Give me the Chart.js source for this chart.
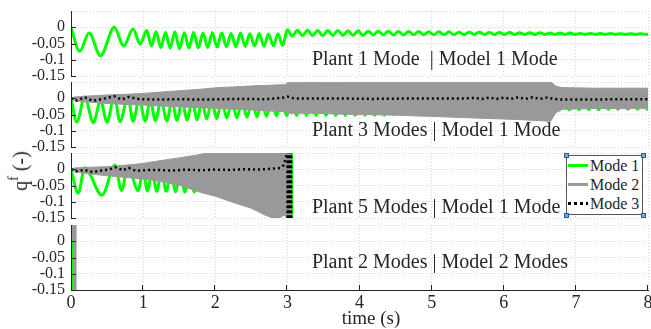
<!DOCTYPE html>
<html><head><meta charset="utf-8">
<script src="https://cdn.jsdelivr.net/npm/chart.js@4.4.0/dist/chart.umd.min.js"></script>
<style>
html,body{margin:0;padding:0;background:#fff;width:651px;height:329px;overflow:hidden;position:relative;}
canvas{position:absolute;left:0;}
#ylab{position:absolute;left:20px;top:171px;transform:translate(-50%,-50%) rotate(-90deg);font-size:20px;font-family:"Liberation Serif","Times New Roman",serif;color:#262626;white-space:nowrap;line-height:20px;z-index:5;}
#ylab sup{font-size:14px;vertical-align:9px;line-height:0;}
#legend{position:absolute;left:566px;top:155px;width:77px;height:60px;box-sizing:border-box;border:1px solid #555;background:#fff;z-index:6;font-family:"Liberation Serif","Times New Roman",serif;font-size:16px;color:#262626;}
.lrow{position:absolute;left:0;width:75px;height:16px;}
.lline{position:absolute;left:1px;top:6px;width:20px;height:3px;}
.ltext{position:absolute;left:23px;top:0;line-height:16px;white-space:nowrap;}
.handle{position:absolute;width:3px;height:3px;border:1px solid #1f5fa8;background:#79a9e0;z-index:7;}
</style></head><body>
<canvas id="c1"></canvas><canvas id="c2"></canvas><canvas id="c3"></canvas><canvas id="c4"></canvas>
<div id="ylab">q<sup>f</sup> (-)</div>
<div id="legend"></div>
<script>
// ---------------- tick / label data ----------------
const X_TICKS = [0, 1, 2, 3, 4, 5, 6, 7, 8];
const X_TICK_LABELS = ['0', '1', '2', '3', '4', '5', '6', '7', '8'];
const Y_TICKS = [-0.15, -0.1, -0.05, 0];
const Y_TICK_LABELS = ['-0.15', '-0.1', '-0.05', '0'];
const Y_MIN = -0.15, Y_MAX = 0.05;
const X_MIN = 0, X_MAX = 8;
const X_TITLE = 'time (s)';
const SERIES_NAMES = ['Mode 1', 'Mode 2', 'Mode 3'];
const PANEL_TITLES = ['Plant 1 Mode  | Model 1 Mode', 'Plant 3 Modes | Model 1 Mode', 'Plant 5 Modes | Model 1 Mode', 'Plant 2 Modes | Model 2 Modes'];

// ---------------- Panel 1 : Plant 1 Mode | Model 1 Mode ----------------
const P1_MODE1_T = [
 0, 0.12, 0.25, 0.41, 0.60, 0.73, 0.86, 0.96, 1.05, 1.115,
 1.18, 1.245, 1.31, 1.375, 1.44, 1.505, 1.57, 1.635, 1.70, 1.765,
 1.83, 1.895, 1.96, 2.025, 2.09, 2.155, 2.22, 2.285, 2.35, 2.415,
 2.48, 2.545, 2.61, 2.675, 2.74, 2.805, 2.87, 2.935, 3.00, 3.07,
 3.14, 3.21, 3.28, 3.35, 3.42, 3.49, 3.56, 3.63, 3.70, 3.77,
 3.84, 3.91, 3.98, 4.05, 4.12, 4.19, 4.26, 4.33, 4.40, 4.47,
 4.54, 4.61, 4.68, 4.75, 4.82, 4.89, 4.96, 5.03, 5.10, 5.17,
 5.24, 5.31, 5.38, 5.45, 5.52, 5.59, 5.66, 5.73, 5.80, 5.87,
 5.94, 6.01, 6.08, 6.15, 6.22, 6.29, 6.36, 6.43, 6.50, 6.57,
 6.64, 6.71, 6.78, 6.85, 6.92, 6.99, 7.06, 7.13, 7.20, 7.27,
 7.34, 7.41, 7.48, 7.55, 7.62, 7.69, 7.76, 7.83, 7.90, 7.97,
 8.00];
const P1_MODE1 = [
 0, -0.074, -0.018, -0.088, 0.000, -0.058, -0.005, -0.052, -0.010, -0.058,
 -0.014, -0.062, -0.016, -0.064, -0.015, -0.066, -0.017, -0.064, -0.016, -0.063,
 -0.018, -0.062, -0.017, -0.061, -0.018, -0.060, -0.019, -0.060, -0.018, -0.059,
 -0.020, -0.058, -0.019, -0.058, -0.021, -0.057, -0.020, -0.056, -0.008, -0.027,
 -0.009, -0.026, -0.009, -0.026, -0.010, -0.026, -0.010, -0.025, -0.010, -0.025,
 -0.011, -0.025, -0.011, -0.025, -0.012, -0.024, -0.012, -0.024, -0.012, -0.024,
 -0.013, -0.024, -0.013, -0.023, -0.013, -0.023, -0.014, -0.023, -0.014, -0.023,
 -0.014, -0.023, -0.015, -0.023, -0.015, -0.022, -0.015, -0.022, -0.016, -0.022,
 -0.016, -0.022, -0.016, -0.022, -0.017, -0.022, -0.017, -0.022, -0.017, -0.022,
 -0.018, -0.022, -0.018, -0.022, -0.018, -0.022, -0.019, -0.022, -0.019, -0.022,
 -0.019, -0.022, -0.019, -0.022, -0.020, -0.022, -0.020, -0.022, -0.020, -0.022,
 -0.021];

// ---------------- Panel 2 : Plant 3 Modes | Model 1 Mode ----------------
const P2_MODE1_T = [
 0, 0.08, 0.19, 0.31, 0.41, 0.50, 0.60, 0.68, 0.79, 0.86,
 0.945, 1.03, 1.10, 1.17, 1.25, 1.33, 1.40, 1.47, 1.54, 1.61,
 1.68, 1.75, 1.815, 1.88, 1.95, 2.02, 2.09, 2.16, 2.23, 2.30,
 2.37, 2.44, 2.51, 2.58, 2.645, 2.71, 2.78, 2.85, 2.92, 2.99,
 3.06, 3.13, 3.20, 3.265, 3.33, 3.40, 3.47, 3.535, 3.60, 3.67,
 3.74, 3.805, 3.87, 3.94, 4.01, 4.075, 4.14, 4.21, 4.28, 4.345,
 4.41, 4.48, 4.55, 4.615, 4.68, 4.75, 4.82, 4.885, 4.95, 5.02,
 5.09, 5.155, 5.22, 5.29, 5.36, 5.425, 5.49, 5.56, 5.63, 5.695,
 5.76, 5.83, 5.90, 5.965, 6.03, 6.10, 6.17, 6.235, 6.30, 6.37,
 6.44, 6.505, 6.57, 6.64, 6.71, 6.775, 6.84, 6.91, 6.98, 7.045,
 7.11, 7.18, 7.25, 7.315, 7.38, 7.45, 7.52, 7.585, 7.65, 7.72,
 7.79, 7.855, 7.92, 7.99, 8.00];
const P2_MODE1 = [
 0, -0.073, 0.004, -0.075, -0.008, -0.074, 0.006, -0.072, 0.004, -0.071,
 -0.004, -0.070, -0.006, -0.069, -0.006, -0.070, -0.007, -0.068, -0.007, -0.067,
 -0.007, -0.066, -0.008, -0.064, -0.008, -0.063, -0.008, -0.061, -0.009, -0.060,
 -0.009, -0.058, -0.009, -0.057, -0.010, -0.055, -0.010, -0.054, -0.010, -0.054,
 -0.010, -0.053, -0.010, -0.053, -0.010, -0.053, -0.010, -0.053, -0.010, -0.053,
 -0.010, -0.053, -0.010, -0.052, -0.010, -0.052, -0.010, -0.052, -0.010, -0.052,
 -0.010, -0.051, -0.010, -0.050, -0.010, -0.050, -0.010, -0.049, -0.010, -0.048,
 -0.010, -0.048, -0.010, -0.047, -0.010, -0.046, -0.010, -0.046, -0.010, -0.045,
 -0.010, -0.044, -0.010, -0.044, -0.010, -0.043, -0.010, -0.042, -0.010, -0.042,
 -0.010, -0.041, -0.010, -0.040, -0.008, -0.036, -0.006, -0.036, -0.006, -0.035,
 -0.006, -0.035, -0.006, -0.035, -0.006, -0.034, -0.006, -0.034, -0.006, -0.034,
 -0.006, -0.034, -0.006, -0.034, -0.033];
const P2_MODE2_T = [
 0, 0.05, 0.25, 0.5, 0.75, 1.0, 1.25, 1.5, 1.75, 2.0,
 2.25, 2.5, 2.75, 2.97, 3.0, 3.25, 3.5, 3.75, 4.0, 4.25,
 4.5, 4.75, 5.0, 5.25, 5.5, 5.75, 6.0, 6.25, 6.5, 6.65,
 6.72, 6.8, 7.0, 7.25, 7.5, 7.75, 8.0];
const P2_MODE2_UPPER = [
 0, 0.004, 0.007, 0.010, 0.012, 0.015, 0.019, 0.023, 0.027, 0.032,
 0.035, 0.038, 0.040, 0.042, 0.048, 0.048, 0.049, 0.049, 0.050, 0.051,
 0.051, 0.051, 0.051, 0.051, 0.051, 0.051, 0.051, 0.051, 0.051, 0.051,
 0.038, 0.033, 0.032, 0.031, 0.031, 0.031, 0.031];
const P2_MODE2_LOWER = [
 0, -0.008, -0.012, -0.016, -0.019, -0.021, -0.024, -0.026, -0.029, -0.031,
 -0.034, -0.036, -0.039, -0.041, -0.046, -0.046, -0.047, -0.049, -0.050, -0.051,
 -0.052, -0.054, -0.056, -0.058, -0.060, -0.062, -0.064, -0.066, -0.069, -0.071,
 -0.045, -0.034, -0.033, -0.032, -0.032, -0.031, -0.031];
const P2_MODE3_T = [
 0, 0.08, 0.19, 0.30, 0.42, 0.60, 0.70, 0.80, 0.95, 1.20,
 1.50, 1.80, 2.10, 2.40, 2.70, 2.95, 3.00, 3.10, 3.40, 3.80,
 4.20, 4.60, 5.00, 5.40, 5.60, 5.70, 5.80, 5.90, 6.00, 6.10,
 6.20, 6.30, 6.40, 6.50, 6.60, 6.70, 6.80, 7.20, 7.60, 8.00];
const P2_MODE3 = [
 0, -0.007, 0.003, -0.008, -0.003, 0.006, -0.004, 0.004, -0.003, -0.004,
 -0.003, -0.004, -0.003, -0.002, -0.003, 0.002, 0.005, -0.001, -0.001, -0.001,
 -0.002, -0.001, -0.001, -0.001, 0.001, -0.002, 0.002, -0.002, 0.002, -0.002,
 0.003, -0.002, 0.003, -0.002, 0.002, -0.002, -0.004, -0.004, -0.003, -0.003];

// ---------------- Panel 3 : Plant 5 Modes | Model 1 Mode ----------------
const P3_MODE1_T = [
 0, 0.10, 0.19, 0.43, 0.61, 0.70, 0.79, 0.93, 1.00, 1.06,
 1.125, 1.19, 1.255, 1.32, 1.385, 1.45, 1.515, 1.58, 1.645, 1.71,
 1.775, 1.84, 1.905, 1.97, 2.035, 2.10, 2.165, 2.23, 2.295, 2.36,
 2.425, 2.49, 2.555, 2.62, 2.685, 2.75, 2.815, 2.88, 2.945, 2.99,
 3.005, 3.02, 3.035, 3.05, 3.065];
const P3_MODE1 = [
 0, -0.074, 0.005, -0.080, 0.013, -0.065, 0.010, -0.066, -0.003, -0.067,
 -0.004, -0.068, -0.005, -0.068, -0.005, -0.069, -0.005, -0.070, -0.006, -0.070,
 -0.006, -0.071, -0.006, -0.071, -0.006, -0.070, -0.006, -0.069, -0.006, -0.068,
 -0.006, -0.067, -0.006, -0.066, -0.006, -0.065, -0.006, -0.064, 0.000, 0.500,
 -0.500, 0.500, -0.500, 0.500, -0.500];
const P3_MODE2_T = [0, 0.05, 0.25, 0.5, 0.75, 1.0, 1.25, 1.5, 1.75, 1.9, 2.0, 2.25, 2.5, 2.7, 2.85, 2.95, 2.995, 3.0, 3.06];
const P3_MODE2_UPPER = [0, 0.004, 0.006, 0.008, 0.012, 0.018, 0.027, 0.035, 0.044, 0.050, 0.055, 0.060, 0.060, 0.060, 0.060, 0.060, 0.060, 0.500, 0.500];
const P3_MODE2_LOWER = [0, -0.008, -0.014, -0.020, -0.025, -0.030, -0.038, -0.049, -0.068, -0.077, -0.083, -0.102, -0.120, -0.142, -0.154, -0.142, -0.145, -0.500, -0.500];
const P3_MODE3_T = [
 0, 0.08, 0.18, 0.30, 0.42, 0.52, 0.62, 0.72, 0.80, 0.90,
 1.00, 1.20, 1.40, 1.60, 1.80, 2.00, 2.20, 2.40, 2.60, 2.80,
 2.90, 2.95, 2.99, 3.000, 3.005, 3.010, 3.015, 3.020, 3.025, 3.030,
 3.035, 3.040, 3.045, 3.050, 3.055];
const P3_MODE3 = [
 0, -0.006, -0.002, -0.009, -0.004, -0.001, 0.006, -0.003, 0.004, -0.005,
 -0.003, -0.002, -0.004, -0.001, -0.003, -0.001, -0.002, 0.000, -0.001, 0.002,
 0.004, 0.013, 0.045, 0.300, -0.500, 0.500, -0.500, 0.500, -0.500, 0.500,
 -0.500, 0.500, -0.500, 0.500, -0.500];

// ---------------- Panel 4 : Plant 2 Modes | Model 2 Modes ----------------
const P4_MODE1_T = [0, 0.010, 0.013];
const P4_MODE1 = [0, -0.010, -1.0];
const P4_MODE2_T = [0, 0.004, 0.022, 0.023, 0.080];
const P4_MODE2_UPPER = [0, 1.0, 1.0, 1.0, 1.0];
const P4_MODE2_LOWER = [0, -0.003, -0.003, -1.0, -1.0];

// ---------------- layout & style ----------------
const FONT = '"Liberation Serif", "Times New Roman", serif';
const LAYOUT = { W: 651, H: 329, panelTops: [11, 82, 153, 225], panelH: 65, axisLeft: 71, rightPad: 3, pad: 12, xAxisH: 39, tickLen: 5 };
const STYLE = { green: '#00ff00', gray: '#999999', black: '#000000', axis: '#262626', text: '#262626', grid: 'rgba(0,0,0,0.17)' };
const ANNOT_POS = [{ t: 3.34, y: -0.116 }, { t: 3.34, y: -0.116 }, { t: 3.34, y: -0.134 }, { t: 3.34, y: -0.083 }];
const X_TITLE_POS = { t: 4.16, dy: 34 };

function pts(T, Y) { return T.map((t, i) => ({ x: t, y: Y[i] })); }

function buildDatasets(m1T, m1Y, m2T, m2U, m2L, m3T, m3Y, greenOnTop) {
  const ds = [];
  ds.push({ label: SERIES_NAMES[0], data: pts(m1T, m1Y), borderColor: STYLE.green, borderWidth: 3,
            cubicInterpolationMode: 'monotone', order: greenOnTop ? 0 : 4, clip: 0, pointRadius: 0, fill: false });
  if (m2T) {
    ds.push({ label: SERIES_NAMES[1] + ' upper', data: pts(m2T, m2U), borderColor: STYLE.gray, borderWidth: 1,
              order: 3, clip: 0, pointRadius: 0, fill: false });
    ds.push({ label: SERIES_NAMES[1], data: pts(m2T, m2L), borderColor: STYLE.gray, borderWidth: 1,
              backgroundColor: STYLE.gray, fill: '-1', order: 2, clip: 0, pointRadius: 0 });
  }
  if (m3T) {
    ds.push({ label: SERIES_NAMES[2], data: pts(m3T, m3Y), borderColor: STYLE.black, borderWidth: 2.5,
              borderDash: [2, 3], order: 1, clip: 0, pointRadius: 0, fill: false });
  }
  return ds;
}

function yLabelFor(v) {
  for (let i = 0; i < Y_TICKS.length; i++) if (Math.abs(Y_TICKS[i] - v) < 1e-9) return Y_TICK_LABELS[i];
  return '';
}

const decorPlugin = {
  id: 'decor',
  afterDraw(chart, args, opts) {
    const { ctx, chartArea: a, scales: { x, y } } = chart;
    ctx.save();
    ctx.strokeStyle = STYLE.axis; ctx.lineWidth = 1; ctx.setLineDash([]);
    ctx.beginPath();
    Y_TICKS.forEach(v => { const py = Math.round(y.getPixelForValue(v)) + 0.5; ctx.moveTo(a.left, py); ctx.lineTo(a.left + LAYOUT.tickLen, py); });
    if (opts.bottom) {
      X_TICKS.forEach(v => { if (v === X_MIN) return; const px = Math.round(x.getPixelForValue(v)) - 0.5; ctx.moveTo(px, a.bottom); ctx.lineTo(px, a.bottom - LAYOUT.tickLen); });
    }
    ctx.stroke();
    ctx.fillStyle = STYLE.text;
    ctx.font = '20px ' + FONT; ctx.textAlign = 'left'; ctx.textBaseline = 'alphabetic';
    const an = ANNOT_POS[opts.idx];
    ctx.fillText(PANEL_TITLES[opts.idx], x.getPixelForValue(an.t), y.getPixelForValue(an.y));
    if (opts.bottom) {
      ctx.font = '19px ' + FONT; ctx.textAlign = 'center';
      ctx.fillText(X_TITLE, x.getPixelForValue(X_TITLE_POS.t), a.bottom + X_TITLE_POS.dy);
    }
    ctx.restore();
  }
};

function makeChart(id, idx, datasets, bottom) {
  const cv = document.getElementById(id);
  const top = LAYOUT.panelTops[idx] - LAYOUT.pad;
  const h = bottom ? LAYOUT.H - top : LAYOUT.panelH + 2 * LAYOUT.pad;
  cv.width = LAYOUT.W; cv.height = h; cv.style.top = top + 'px'; cv.style.width = LAYOUT.W + 'px'; cv.style.height = h + 'px';
  return new Chart(cv, {
    type: 'line',
    data: { datasets },
    options: {
      responsive: false, animation: false, devicePixelRatio: 1, events: [],
      layout: { padding: { left: 0, right: LAYOUT.rightPad, top: LAYOUT.pad, bottom: bottom ? 0 : LAYOUT.pad } },
      plugins: { legend: { display: false }, tooltip: { enabled: false }, decor: { idx: idx, bottom: bottom } },
      elements: { point: { radius: 0 }, line: { tension: 0 } },
      scales: {
        x: {
          type: 'linear', min: X_MIN, max: X_MAX,
          afterBuildTicks: s => { s.ticks = X_TICKS.map(v => ({ value: v })); },
          afterFit: s => { s.height = bottom ? LAYOUT.xAxisH : 0; s.paddingLeft = 0; s.paddingRight = 0; },
          ticks: { display: bottom, autoSkip: false, maxRotation: 0, minRotation: 0, padding: 2,
                   font: { family: FONT, size: 18 }, color: STYLE.text,
                   callback: (v, i) => X_TICK_LABELS[i] },
          grid: { color: STYLE.grid, lineWidth: 1, drawTicks: false },
          border: { display: bottom, color: STYLE.axis, width: 1, dash: [1, 2], z: 1 }
        },
        y: {
          type: 'linear', min: Y_MIN, max: Y_MAX,
          afterBuildTicks: s => { s.ticks = Y_TICKS.concat([Y_MAX]).map(v => ({ value: v })); },
          afterFit: s => { s.width = LAYOUT.axisLeft; s.paddingTop = 0; s.paddingBottom = 0; },
          ticks: { autoSkip: false, padding: 6, font: { family: FONT, size: 16 }, color: STYLE.text,
                   callback: v => yLabelFor(v) },
          grid: { color: STYLE.grid, lineWidth: 1, drawTicks: false },
          border: { display: true, color: STYLE.axis, width: 1, dash: [1, 2], z: 1 }
        }
      }
    },
    plugins: [decorPlugin]
  });
}

makeChart('c1', 0, buildDatasets(P1_MODE1_T, P1_MODE1), false);
makeChart('c2', 1, buildDatasets(P2_MODE1_T, P2_MODE1, P2_MODE2_T, P2_MODE2_UPPER, P2_MODE2_LOWER, P2_MODE3_T, P2_MODE3), false);
makeChart('c3', 2, buildDatasets(P3_MODE1_T, P3_MODE1, P3_MODE2_T, P3_MODE2_UPPER, P3_MODE2_LOWER, P3_MODE3_T, P3_MODE3), false);
makeChart('c4', 3, buildDatasets(P4_MODE1_T, P4_MODE1, P4_MODE2_T, P4_MODE2_UPPER, P4_MODE2_LOWER, null, null, true), true);

// ---------------- legend (HTML) ----------------
(function () {
  const lg = document.getElementById('legend');
  const samples = [
    'background:' + STYLE.green + ';',
    'background:' + STYLE.gray + ';',
    'background:repeating-linear-gradient(90deg,' + STYLE.black + ' 0 3px, transparent 3px 6px);'
  ];
  const rowTops = [2, 21, 40];
  SERIES_NAMES.forEach((name, i) => {
    const r = document.createElement('div'); r.className = 'lrow'; r.style.top = rowTops[i] + 'px';
    const l = document.createElement('div'); l.className = 'lline'; l.setAttribute('style', samples[i]);
    const t = document.createElement('div'); t.className = 'ltext'; t.textContent = name;
    r.appendChild(l); r.appendChild(t); lg.appendChild(r);
  });
  const corners = [[566, 155], [643, 155], [566, 215], [643, 215]];
  corners.forEach(c => {
    const hd = document.createElement('div'); hd.className = 'handle';
    hd.style.left = (c[0] - 2.5) + 'px'; hd.style.top = (c[1] - 2.5) + 'px';
    document.body.appendChild(hd);
  });
})();
</script>
</body></html>
